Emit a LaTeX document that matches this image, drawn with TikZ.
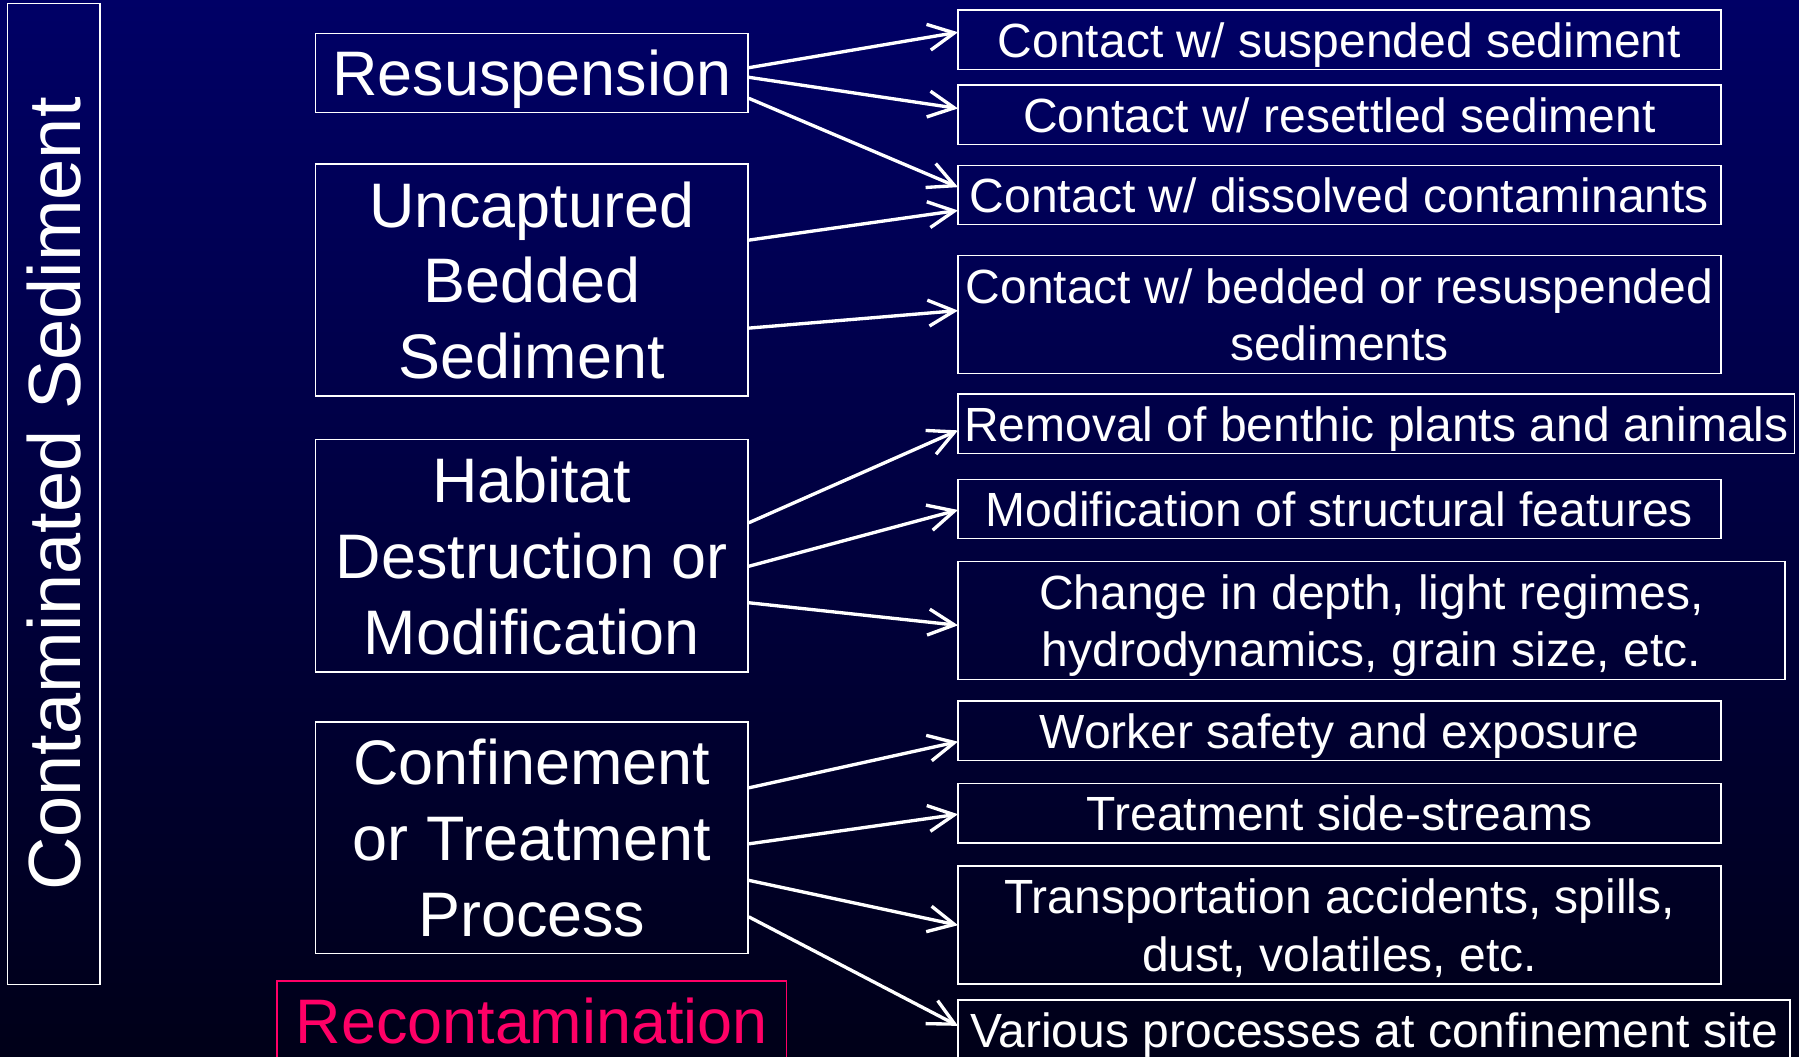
\documentclass[tikz,border=0pt]{standalone}
\usepackage{fontspec}
\setmainfont{Liberation Sans}
\usepackage{xcolor}
\usepackage{tikz}
\usetikzlibrary{arrows.meta,positioning,calc}
\definecolor{slidetop}{HTML}{000066}
\definecolor{slidebottom}{HTML}{000018}
\definecolor{recontam}{HTML}{FF0066}
\tikzset{
  cause/.style={draw=white,line width=0.45pt,text=white,align=center,minimum width=43.25mm,inner sep=1mm,text depth=0pt,font=\fontsize{17.9}{21.6}\selectfont},
  effect/.style={draw=white,line width=0.45pt,text=white,align=center,minimum width=76.3mm,minimum height=5.93mm,inner xsep=0.6mm,inner ysep=0.2mm,text depth=0pt,outer sep=0pt,anchor=north west,font=\fontsize{13.66}{16.3}\selectfont},
  titlebox/.style={draw=white,line width=0.45pt,text=white,rotate=90,minimum width=98.1mm,minimum height=9.27mm,font=\fontsize{21.05}{25}\selectfont},
  link/.style={-{Straight Barb[length=2.6mm,width=2.6mm]},line width=0.95pt,draw=white}
}
\begin{document}
\begin{tikzpicture}
  \useasboundingbox (0,0) rectangle (17.99,-10.57);
  \clip (0,0) rectangle (17.99,-10.57);
  \shade[top color=slidetop,bottom color=slidebottom] (0,0) rectangle (17.99,-10.57);
  \node[titlebox] (title) at (0.537,-4.94) {Contaminated Sediment};
  \node[cause,minimum height=7.94mm] (res) at (5.3175,-0.73) {Resuspension};
  \node[cause,minimum height=23.17mm,below=5.0mm of res] (unc) {Uncaptured\\Bedded\\Sediment};
  \node[cause,minimum height=23.24mm,below=4.2mm of unc] (hab) {Habitat\\Destruction or\\Modification};
  \node[cause,minimum height=23.16mm,below=4.85mm of hab] (conf) {Confinement\\or Treatment\\Process};
  \node[cause,draw=recontam,text=recontam,minimum width=50.94mm,minimum height=7.94mm,below=2.6mm of conf] (recon) {Recontamination};
  \node[effect] (r1) at (9.58,-0.10) {Contact w/ suspended sediment};
  \node[effect] (r2) at ([yshift=-1.57mm]r1.south west) {Contact w/ resettled sediment};
  \node[effect] (r3) at ([yshift=-2.1mm]r2.south west) {Contact w/ dissolved contaminants};
  \node[effect,minimum height=11.8mm] (r4) at ([yshift=-3.1mm]r3.south west) {Contact w/ bedded or resuspended\\sediments};
  \node[effect,minimum width=83.6mm] (r5) at ([yshift=-2.04mm]r4.south west) {Removal of benthic plants and animals};
  \node[effect] (r6) at ([yshift=-2.6mm]r5.south west) {Modification of structural features};
  \node[effect,minimum width=82.7mm,minimum height=11.8mm] (r7) at ([yshift=-2.27mm]r6.south west) {Change in depth, light regimes,\\hydrodynamics, grain size, etc.};
  \node[effect] (r8) at ([yshift=-2.17mm]r7.south west) {Worker safety and exposure};
  \node[effect] (r9) at ([yshift=-2.33mm]r8.south west) {Treatment side-streams};
  \node[effect,minimum height=11.8mm] (r10) at ([yshift=-2.33mm]r9.south west) {Transportation accidents, spills,\\dust, volatiles, etc.};
  \node[effect,minimum width=83.2mm] (r11) at ([yshift=-1.6mm]r10.south west) {Various processes at confinement site};
  \draw[link] ([yshift=0.53mm]res.east) -- ([yshift=0.74mm]r1.west);
  \draw[link] ([yshift=-0.43mm]res.east) -- ([yshift=0.62mm]r2.west);
  \draw[link] ([yshift=-2.53mm]res.east) -- ([yshift=0.78mm]r3.west);
  \draw[link] ([yshift=4mm]unc.east) -- ([yshift=-1.55mm]r3.west);
  \draw[link] ([yshift=-4.8mm]unc.east) -- ([yshift=0.4mm]r4.west);
  \draw[link] ([yshift=3.3mm]hab.east) -- ([yshift=-0.67mm]r5.west);
  \draw[link] ([yshift=-1.05mm]hab.east) -- ([yshift=-0.1mm]r6.west);
  \draw[link] ([yshift=-4.7mm]hab.east) -- ([yshift=-0.5mm]r7.west);
  \draw[link] ([yshift=5mm]conf.east) -- ([yshift=-1.1mm]r8.west);
  \draw[link] ([yshift=-0.6mm]conf.east) -- ([yshift=-0.1mm]r9.west);
  \draw[link] ([yshift=-4.25mm]conf.east) -- (r10.west);
  \draw[link] ([yshift=-7.9mm]conf.east) -- ([yshift=0.4mm]r11.west);
\end{tikzpicture}
\end{document}
